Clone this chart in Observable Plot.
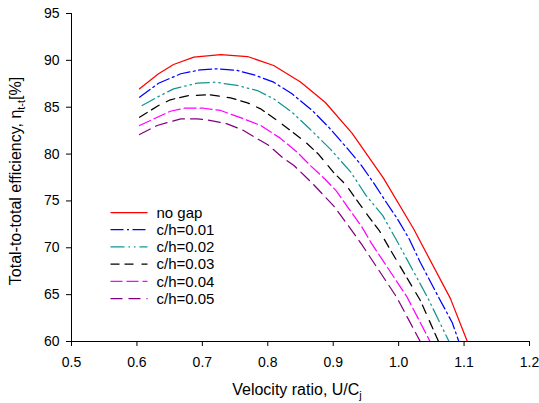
<!DOCTYPE html>
<html>
<head>
<meta charset="utf-8">
<script src="https://cdn.jsdelivr.net/npm/d3@7"></script>
<script src="https://cdn.jsdelivr.net/npm/@observablehq/plot@0.6"></script>
<style>
  html, body { margin: 0; padding: 0; background: #fff; }
  #chart { width: 539px; height: 403px; }
</style>
</head>
<body>
<div id="chart"></div>
<script>
// ---- Data ----
const seriesNames = ["no gap", "c/h=0.01", "c/h=0.02", "c/h=0.03", "c/h=0.04", "c/h=0.05"];

const xNoGap = [0.604, 0.633, 0.656, 0.687, 0.728, 0.769, 0.809, 0.85, 0.888, 0.929, 0.977, 1.023, 1.079, 1.105];
const yNoGap = [86.96, 88.57, 89.56, 90.34, 90.62, 90.41, 89.45, 87.7, 85.5, 82.2, 77.4, 72.0, 64.6, 60.0];

const xGap01 = [0.604, 0.633, 0.667, 0.697, 0.723, 0.753, 0.779, 0.809, 0.837, 0.868, 0.894, 0.92, 0.943, 0.963, 0.981, 0.998, 1.016, 1.033, 1.061, 1.082, 1.092];
const yGap01 = [86.07, 87.56, 88.57, 88.99, 89.1, 88.92, 88.46, 87.67, 86.43, 84.65, 82.8, 80.73, 78.8, 76.8, 74.86, 73.1, 70.96, 68.46, 64.73, 62.0, 60.0];

const xGap02 = [0.608, 0.631, 0.656, 0.692, 0.72, 0.753, 0.784, 0.809, 0.837, 0.864, 0.896, 0.927, 0.95, 0.976, 1.0, 1.044, 1.077];
const yGap02 = [85.18, 86.07, 86.96, 87.56, 87.67, 87.32, 86.78, 85.9, 84.47, 82.7, 80.5, 78.06, 75.6, 73.4, 70.4, 64.73, 60.0];

const xGap03 = [0.604, 0.633, 0.651, 0.679, 0.712, 0.743, 0.769, 0.789, 0.814, 0.835, 0.859, 0.878, 0.901, 0.919, 0.939, 0.953, 0.971, 0.985, 1.033, 1.061];
const yGap03 = [83.93, 85.18, 85.79, 86.25, 86.32, 86.0, 85.47, 84.83, 83.6, 82.5, 81.2, 79.95, 78.0, 76.75, 74.8, 73.44, 71.77, 70.06, 64.4, 60.0];

const xGap04 = [0.604, 0.626, 0.651, 0.672, 0.702, 0.728, 0.763, 0.789, 0.819, 0.845, 0.865, 0.888, 0.905, 0.924, 0.944, 0.958, 1.013, 1.048];
const yGap04 = [83.05, 83.76, 84.57, 84.89, 84.89, 84.65, 83.76, 83.05, 81.7, 80.2, 78.78, 77.29, 76.04, 74.16, 72.2, 70.53, 64.73, 60.0];

const xGap05 = [0.604, 0.631, 0.667, 0.692, 0.707, 0.738, 0.763, 0.784, 0.8, 0.822, 0.84, 0.869, 0.901, 0.918, 0.943, 0.997, 1.033];
const yGap05 = [82.09, 83.05, 83.76, 83.76, 83.66, 83.23, 82.52, 81.63, 81.0, 79.67, 78.78, 76.82, 74.44, 72.84, 70.42, 64.73, 60.0];

const xTicks = [0.5, 0.6, 0.7, 0.8, 0.9, 1.0, 1.1, 1.2];
const yTicks = [60, 65, 70, 75, 80, 85, 90, 95];

const xLabel = "Velocity ratio, U/C";
const xLabelSub = "j";
const yLabel = "Total-to-total efficiency, \u03B7";
const yLabelSub = "t-t";
const yLabelTail = "[%]";

// ---- Build tables ----
const seriesXs = [xNoGap, xGap01, xGap02, xGap03, xGap04, xGap05];
const seriesYs = [yNoGap, yGap01, yGap02, yGap03, yGap04, yGap05];
const tables = seriesNames.map((name, i) =>
  d3.zip(seriesXs[i], seriesYs[i]).map(([x, y]) => ({name, x, y}))
);

// styles
const styles = [
  {stroke: "#ff0000", dash: null},
  {stroke: "#0000ff", dash: "13,3.5,2,3.5"},
  {stroke: "#139494", dash: "14,4,1.5,4,1.5,4"},
  {stroke: "#000000", dash: "9,5,9,8"},
  {stroke: "#ff00ff", dash: "12,4"},
  {stroke: "#800080", dash: "12,6"}
];

const font = "Arial, 'Liberation Sans', sans-serif";

const plot = Plot.plot({
  width: 539,
  height: 403,
  marginLeft: 71,
  marginRight: 10,
  marginTop: 13,
  marginBottom: 62,
  style: {fontFamily: font, fontSize: "14px", background: "#ffffff", color: "#000000", overflow: "visible"},
  x: {domain: [0.5, 1.2], ticks: xTicks, tickFormat: d3.format(".1f"), tickSize: 5, tickPadding: 11, label: null},
  y: {domain: [60, 95], ticks: yTicks, tickSize: 5, tickPadding: 7, label: null},
  marks: [
    ...tables.map((t, i) => Plot.line(t, {
      x: "x", y: "y",
      stroke: styles[i].stroke,
      strokeWidth: 1.25,
      strokeDasharray: styles[i].dash
    })),
    Plot.ruleX([0.5], {stroke: "#000000", strokeWidth: 1}),
    Plot.ruleY([60], {stroke: "#000000", strokeWidth: 1})
  ]
});

document.getElementById("chart").appendChild(plot);

const svg = d3.select(plot);

// x axis title
const xt = svg.append("text")
  .attr("x", 297).attr("y", 395)
  .attr("text-anchor", "middle")
  .attr("font-family", font)
  .attr("font-size", 16)
  .attr("fill", "#000");
xt.append("tspan").text(xLabel);
xt.append("tspan").attr("font-size", 11).attr("dy", 4).text(xLabelSub);

// y axis title
const yt = svg.append("text")
  .attr("transform", "translate(21,181) rotate(-90)")
  .attr("text-anchor", "middle")
  .attr("font-family", font)
  .attr("font-size", 16)
  .attr("fill", "#000");
yt.append("tspan").text(yLabel);
yt.append("tspan").attr("font-size", 11).attr("dy", 4).text(yLabelSub);
yt.append("tspan").attr("dy", -4).text(yLabelTail);

// legend
const lg = svg.append("g")
  .attr("font-family", font)
  .attr("font-size", 15)
  .attr("text-anchor", "start");
seriesNames.forEach((name, i) => {
  const cy = 212.5 + i * 17.2;
  lg.append("line")
    .attr("x1", 110.5).attr("x2", 147.5)
    .attr("y1", cy).attr("y2", cy)
    .attr("stroke", styles[i].stroke)
    .attr("stroke-width", 1.25)
    .attr("stroke-dasharray", styles[i].dash);
  lg.append("text")
    .attr("x", 156.5).attr("y", cy + 5.3)
    .attr("text-anchor", "start")
    .attr("fill", "#000")
    .text(name);
});
</script>
</body>
</html>
